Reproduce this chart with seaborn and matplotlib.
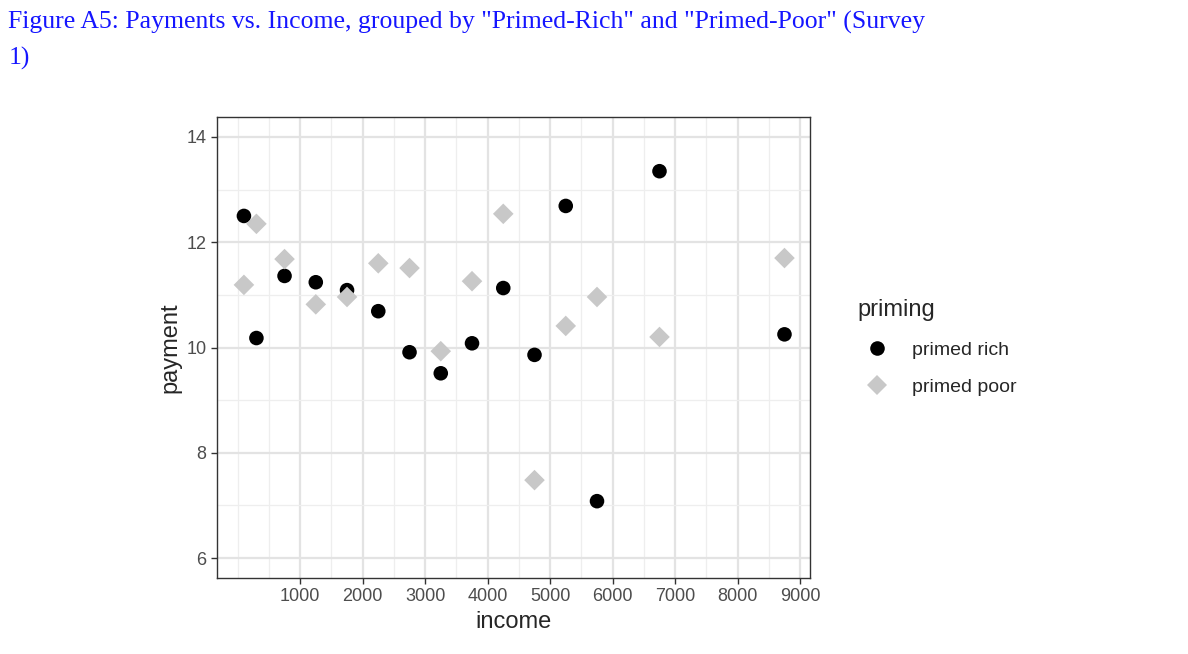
import seaborn as sns
import matplotlib.pyplot as plt
import pandas as pd
from matplotlib.ticker import MultipleLocator

income = [100, 300, 750, 1250, 1750, 2250, 2750, 3250, 3750, 4250, 4750, 5250, 5750, 6750, 8750]
rich = [12.50, 10.18, 11.36, 11.24, 11.09, 10.69, 9.91, 9.51, 10.08, 11.13, 9.86, 12.69, 7.08, 13.35, 10.25]
poor = [11.19, 12.35, 11.68, 10.82, 10.96, 11.60, 11.51, 9.93, 11.26, 12.54, 7.48, 10.41, 10.96, 10.20, 11.70]

df = pd.concat([
    pd.DataFrame({"income": income, "payment": rich, "priming": "primed rich"}),
    pd.DataFrame({"income": income, "payment": poor, "priming": "primed poor"}),
])

sns.set_theme(style="whitegrid")
plt.rcParams['font.family'] = ['Liberation Sans', 'DejaVu Sans']
fig = plt.figure(figsize=(11.88, 6.54), dpi=100)
ax = fig.add_axes([0.1827, 0.1162, 0.4992, 0.7049])

sns.scatterplot(data=df, x="income", y="payment", hue="priming", style="priming",
                palette={"primed rich": "black", "primed poor": "#c8c8c8"},
                markers={"primed rich": "o", "primed poor": "D"},
                s=110, linewidth=0, ax=ax, zorder=3)

ax.set_xlim(-330, 9160)
ax.set_ylim(5.62, 14.38)
ax.set_xticks(range(1000, 10000, 1000))
ax.xaxis.set_minor_locator(MultipleLocator(500))
ax.yaxis.set_major_locator(MultipleLocator(2))
ax.yaxis.set_minor_locator(MultipleLocator(1))
ax.grid(which="major", color="#e3e3e3", linewidth=1.6)
ax.grid(which="minor", color="#eeeeee", linewidth=0.9)
for s in ax.spines.values():
    s.set_color("#333333")
    s.set_linewidth(1)
ax.tick_params(which="major", length=4, width=1, color="#333333", labelsize=13,
               labelcolor="#4d4d4d", bottom=True, left=True)
ax.tick_params(which="minor", length=0)
ax.set_xlabel("income", fontsize=17)
ax.set_ylabel("payment", fontsize=17)

leg = ax.legend(title="priming", loc="center left", bbox_to_anchor=(1.05, 0.5),
                frameon=False, fontsize=14, title_fontsize=17, markerscale=1.0,
                labelspacing=1.0)
leg._legend_box.align = "left"

fig.text(0.007, 0.965, 'Figure A5: Payments vs. Income, grouped by "Primed-Rich" and "Primed-Poor" (Survey',
         color="#1515ff", fontsize=18.5, family="Liberation Serif", va="center")
fig.text(0.007, 0.91, "1)", color="#1515ff", fontsize=18.5, family="Liberation Serif", va="center")

fig.savefig("out.png", dpi=100)
